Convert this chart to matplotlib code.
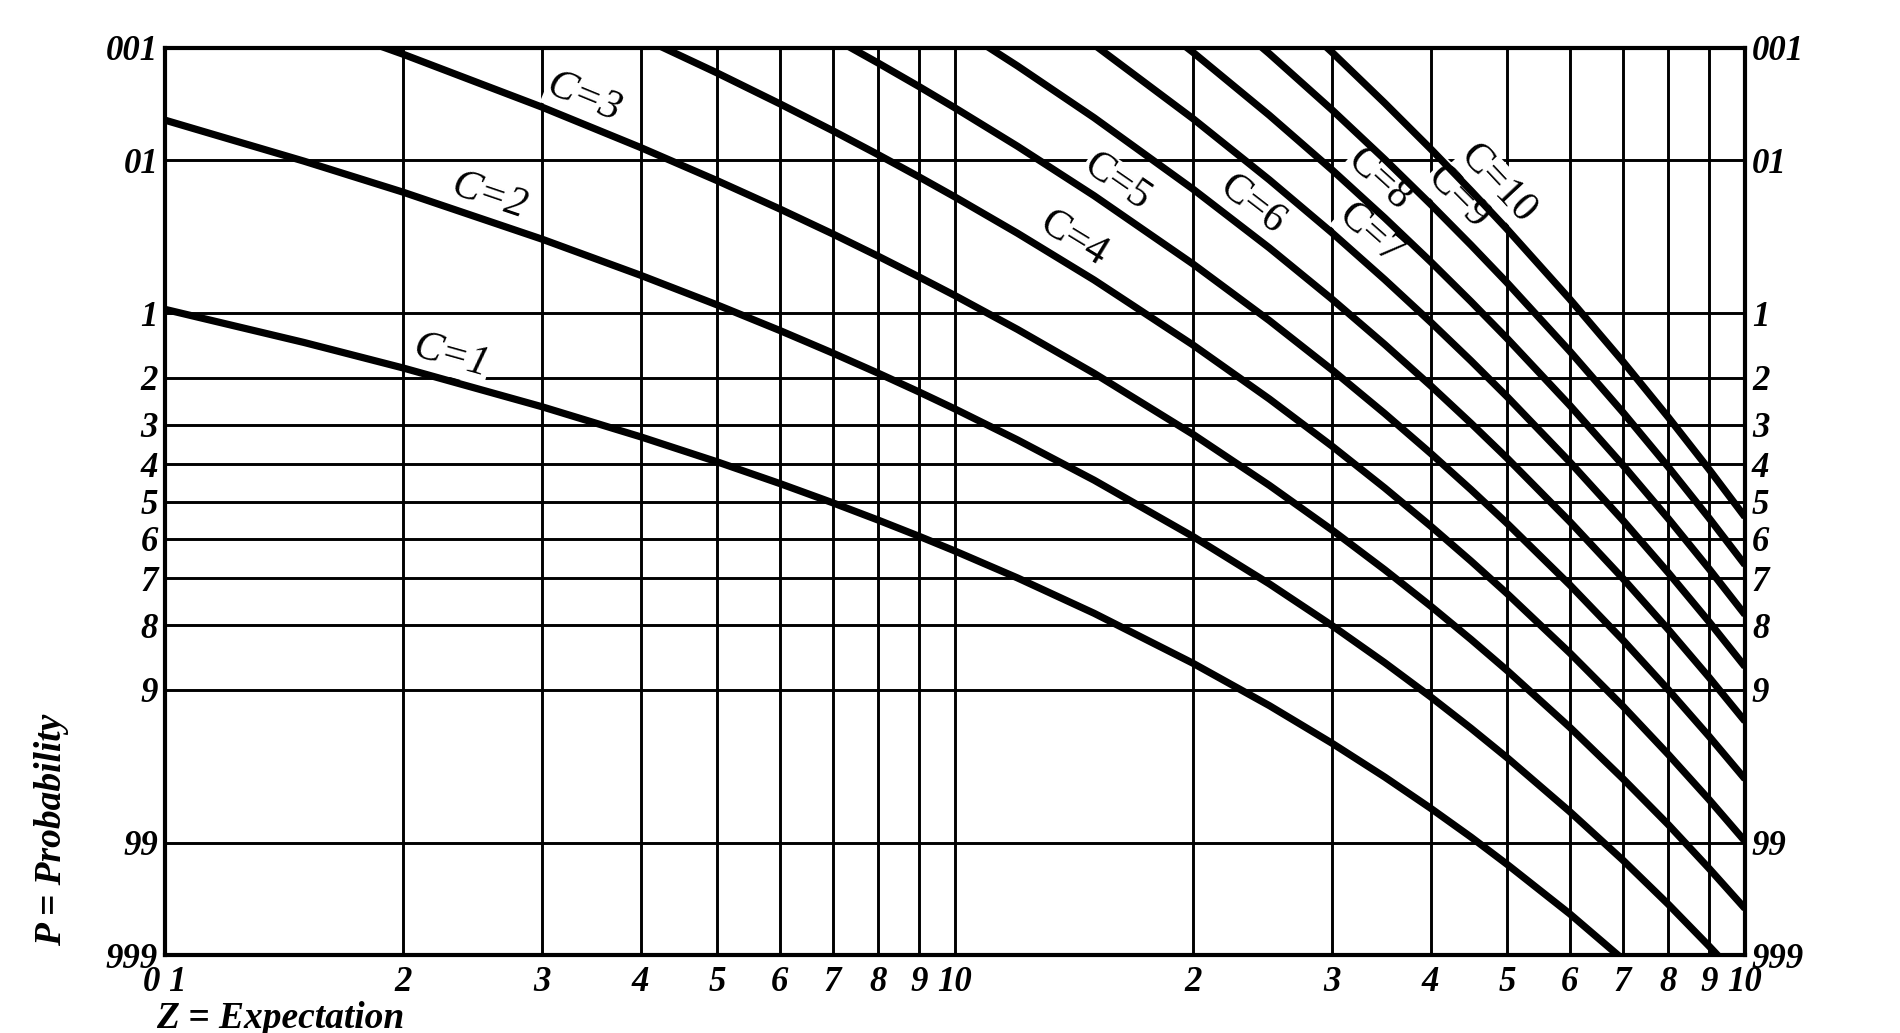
import math
import numpy as np
import matplotlib
matplotlib.use("Agg")
import matplotlib.pyplot as plt
from matplotlib.ticker import NullLocator

# expectation values (x) where the curves were read
Z = [0.1, 0.15, 0.2, 0.3, 0.4, 0.5, 0.6, 0.7, 0.8, 0.9, 1.0, 1.2, 1.5,
     2.0, 2.5, 3.0, 3.5, 4.0, 4.5, 5.0, 6.0, 7.0, 8.0, 9.0, 10.0]

# probability, None = outside the chart
C1 = [.0952, .1393, .1813, .2592, .3297, .3935, .4512, .5034, .5507, .5934, .6321, .6988, .7769,
      .8647, .9179, .9502, .9698, .9817, .9889, .9933, .99752, .99909, .99966, None, None]
C2 = [.00468, .0102, .0175, .0369, .0616, .0902, .1219, .1558, .1912, .2275, .2642, .3374, .4422,
      .5940, .7127, .8009, .8641, .9084, .9389, .9596, .9827, .9927, .99698, .99877, .9995]
C3 = [.000155, .000503, .00115, .0036, .00793, .0144, .0231, .0341, .0474, .0629, .0803, .1205, .1912,
      .3233, .4562, .5768, .6792, .7619, .8264, .8753, .9380, .9704, .9862, .99377, .99723]
C4 = [None, None, None, .000266, .000776, .00175, .00336, .00575, .00908, .01346, .0190, .0338, .0656,
      .1429, .2424, .3528, .4634, .5665, .6577, .7350, .8488, .9182, .9577, .9788, .9897]
C5 = [None, None, None, None, None, None, .000394, .000786, .00141, .00234, .00366, .00775, .0186,
      .0527, .1088, .1847, .2746, .3712, .4679, .5595, .7149, .8270, .9004, .9450, .9707]
C6 = [None, None, None, None, None, None, None, None, None, None, .000594, .0015, .00446,
      .0166, .0420, .0839, .1424, .2149, .2971, .3840, .5543, .6993, .8088, .8843, .9329]
C7 = [None, None, None, None, None, None, None, None, None, None, None, .00025, .000926,
      .00453, .0142, .0335, .0653, .1107, .1689, .2378, .3937, .5503, .6866, .7932, .8699]
C8 = [None, None, None, None, None, None, None, None, None, None, None, None, .00017,
      .0011, .00425, .0119, .0267, .0511, .0866, .1334, .2560, .4013, .5470, .6761, .7798]
C9 = [None, None, None, None, None, None, None, None, None, None, None, None, None,
      .000238, .00114, .0038, .00988, .0214, .0403, .0681, .1528, .2709, .4075, .5443, .6672]
C10 = [None, None, None, None, None, None, None, None, None, None, None, None, None,
       None, .000277, .0011, .00332, .00813, .0171, .0318, .0839, .1695, .2834, .4126, .5421]

CURVES = [C1, C2, C3, C4, C5, C6, C7, C8, C9, C10]
CURVE_NAMES = ["C=1", "C=2", "C=3", "C=4", "C=5", "C=6", "C=7", "C=8", "C=9", "C=10"]
# where along x each curve name sits
NAME_AT = [0.226, 0.252, 0.33, 1.36, 1.54, 2.28, 3.20, 3.28, 4.12, 4.62]

Z_TICKS = [0.1, 0.2, 0.3, 0.4, 0.5, 0.6, 0.7, 0.8, 0.9, 1, 2, 3, 4, 5, 6, 7, 8, 9, 10]
Z_LABELS = ["0 1", "2", "3", "4", "5", "6", "7", "8", "9", "10",
            "2", "3", "4", "5", "6", "7", "8", "9", "10"]
P_TICKS = [.001, .01, .1, .2, .3, .4, .5, .6, .7, .8, .9, .99, .999]
P_LABELS = ["001", "01", "1", "2", "3", "4", "5", "6", "7", "8", "9", "99", "999"]


# normal probability scale (Acklam's inverse normal)
A = [-3.969683028665376e+01, 2.209460984245205e+02, -2.759285104469687e+02,
     1.383577518672690e+02, -3.066479806614716e+01, 2.506628277459239e+00]
B = [-5.447609879822406e+01, 1.615858368580409e+02, -1.556989798598866e+02,
     6.680131188771972e+01, -1.328068155288572e+01]
CC = [-7.784894002430293e-03, -3.223964580411365e-01, -2.400758277161838e+00,
      -2.549671348283441e+00, 4.374664141464968e+00, 2.938163982698783e+00]
D = [7.784695709041462e-03, 3.224671290700398e-01, 2.445134137142996e+00,
     3.754408661907416e+00]


def ppf(p):
    p = np.clip(np.asarray(p, dtype=float), 1e-12, 1 - 1e-12)
    q = p - 0.5
    r = q * q
    mid = (((((A[0]*r+A[1])*r+A[2])*r+A[3])*r+A[4])*r+A[5])*q / \
          (((((B[0]*r+B[1])*r+B[2])*r+B[3])*r+B[4])*r+1)
    t = np.sqrt(-2 * np.log(np.minimum(p, 1 - p)))
    tail = (((((CC[0]*t+CC[1])*t+CC[2])*t+CC[3])*t+CC[4])*t+CC[5]) / \
           ((((D[0]*t+D[1])*t+D[2])*t+D[3])*t+1)
    out = np.where(p < 0.02425, tail, np.where(p > 1 - 0.02425, -tail, mid))
    return out


_erf = np.vectorize(math.erf, otypes=[float])


def cdf(z):
    z = np.asarray(z, dtype=float)
    return 0.5 * (1 + _erf(z / math.sqrt(2)))


plt.rcParams['font.family'] = 'Liberation Serif'
plt.rcParams['font.style'] = 'italic'
plt.rcParams['font.weight'] = 'bold'

fig = plt.figure(figsize=(19, 10.33), dpi=100)
ax = fig.add_axes([165/1900, 78/1033, 1580/1900, 907/1033])

ax.set_xscale('log')
ax.set_yscale('function', functions=(ppf, cdf))
ax.set_xlim(0.1, 10)
ax.set_ylim(0.999, 0.001)

ax.set_xticks(Z_TICKS, Z_LABELS)
ax.set_yticks(P_TICKS, P_LABELS)
ax.xaxis.set_minor_locator(NullLocator())
ax.yaxis.set_minor_locator(NullLocator())
ax.tick_params(axis='both', length=0, labelsize=25)
ax.tick_params(axis='x', pad=8)
ax.tick_params(axis='y', pad=5, labelright=True)
ax.grid(True, which='major', color='black', linewidth=2.1)
ax.set_axisbelow(True)
for s in ax.spines.values():
    s.set_linewidth(3)

zz = np.array(Z, dtype=float)
for vals in CURVES:
    pp = np.array([np.nan if v is None else v for v in vals], dtype=float)
    ax.plot(zz, pp, color='black', linewidth=5.2, solid_capstyle='butt', zorder=4)

# curve names, laid along each curve just above it
fig.canvas.draw()
for k, (vals, name, xat) in enumerate(zip(CURVES, CURVE_NAMES, NAME_AT)):
    pp = np.array([np.nan if v is None else v for v in vals], dtype=float)
    ok = ~np.isnan(pp)
    pts = ax.transData.transform(np.column_stack([zz[ok], pp[ok]]))
    xd = ax.transData.transform((xat, 0.5))[0]
    i = np.searchsorted(pts[:, 0], xd)
    i = min(max(i, 1), len(pts) - 1)
    (x0, y0), (x1, y1) = pts[i - 1], pts[i]
    f = (xd - x0) / (x1 - x0)
    yd = y0 + f * (y1 - y0)
    ang = math.atan2(y1 - y0, x1 - x0)
    off = 24
    cx = xd - math.sin(ang) * off
    cy = yd + math.cos(ang) * off
    tx, ty = ax.transData.inverted().transform((cx, cy))
    ax.text(tx, ty, name, fontsize=30, fontweight='normal',
            fontstyle='italic' if k < 3 else 'normal',
            rotation=math.degrees(ang), rotation_mode='anchor',
            ha='center', va='center', zorder=3,
            bbox=dict(facecolor='white', edgecolor='none', pad=0.5))

fig.text(156/1900, 1 - 1028/1033, "Z = Expectation", fontsize=27,
         ha='left', va='baseline')
fig.text(52/1900, 1 - 830/1033, "P = Probability", fontsize=27,
         rotation=90, ha='center', va='center')

plt.savefig('out.png', dpi=100)
